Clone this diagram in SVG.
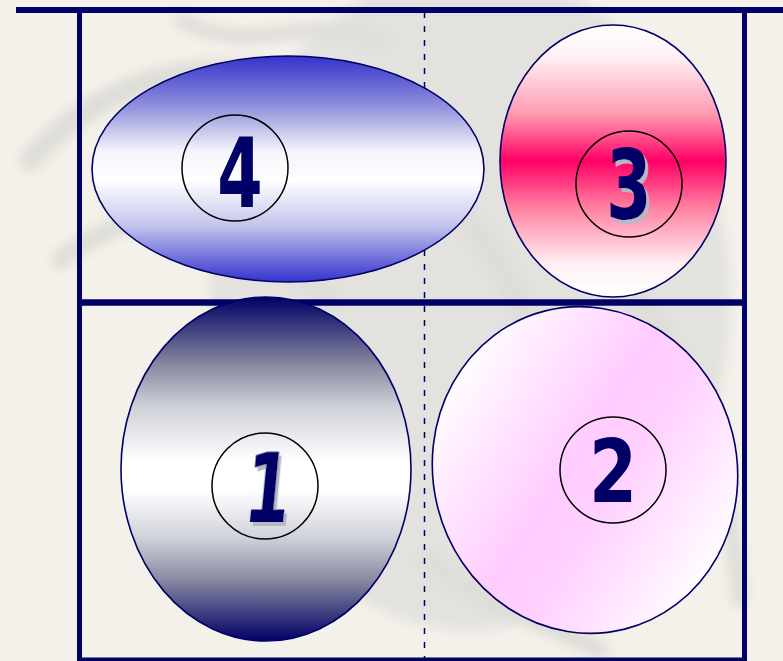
<svg xmlns="http://www.w3.org/2000/svg" width="783" height="661" viewBox="0 0 783 661">
<defs>
<style>
.frame{stroke:#000066;fill:none}
.node{stroke:#000066;stroke-width:1.6}
.ring{fill:none;stroke:#000;stroke-width:1.5}
.num{font-family:"DejaVu Sans",sans-serif;font-weight:bold;font-size:96px;fill:#000066;text-anchor:middle}
.sh{filter:url(#drop)}
.bgs{fill:none;stroke:#d6d4d0;stroke-linecap:round}
</style>
<linearGradient id="g4" x1="0" y1="0" x2="0" y2="1">
<stop offset="0" stop-color="#3333cc"/>
<stop offset="0.22" stop-color="#8f8fdc"/>
<stop offset="0.42" stop-color="#f4f4fb"/>
<stop offset="0.55" stop-color="#ffffff"/>
<stop offset="0.75" stop-color="#c4c4ec"/>
<stop offset="1" stop-color="#3333cc"/>
</linearGradient>
<linearGradient id="g3" x1="0" y1="0" x2="0" y2="1">
<stop offset="0" stop-color="#ffffff"/>
<stop offset="0.12" stop-color="#fff0f4"/>
<stop offset="0.33" stop-color="#ff99b0"/>
<stop offset="0.5" stop-color="#ff0066"/>
<stop offset="0.67" stop-color="#ff80a0"/>
<stop offset="0.88" stop-color="#fff0f4"/>
<stop offset="1" stop-color="#ffffff"/>
</linearGradient>
<linearGradient id="g1" x1="0" y1="0" x2="0" y2="1">
<stop offset="0" stop-color="#000066"/>
<stop offset="0.2" stop-color="#8a8aa2"/>
<stop offset="0.32" stop-color="#d0d2da"/>
<stop offset="0.48" stop-color="#ffffff"/>
<stop offset="0.56" stop-color="#ffffff"/>
<stop offset="0.7" stop-color="#d0d2da"/>
<stop offset="0.82" stop-color="#8a8aa2"/>
<stop offset="1" stop-color="#000066"/>
</linearGradient>
<linearGradient id="g2" x1="0.15" y1="0.1" x2="0.85" y2="0.9">
<stop offset="0" stop-color="#ffffff"/>
<stop offset="0.45" stop-color="#ffccff"/>
<stop offset="0.6" stop-color="#ffd0ff"/>
<stop offset="1" stop-color="#ffffff"/>
</linearGradient>
<filter id="blur" x="-20%" y="-20%" width="140%" height="140%"><feGaussianBlur stdDeviation="6"/></filter>
<filter id="drop" x="-20%" y="-20%" width="150%" height="150%">
<feOffset in="SourceAlpha" dx="5" dy="4" result="o"/>
<feFlood flood-color="#b8b8c4"/>
<feComposite in2="o" operator="in" result="s"/>
<feMerge><feMergeNode in="s"/><feMergeNode in="SourceGraphic"/></feMerge>
</filter>
</defs>
<rect width="783" height="661" fill="#f3f1e9"/>
<g id="background" filter="url(#blur)" opacity="0.7">
<ellipse cx="470" cy="300" rx="260" ry="330" fill="#dddcdc"/>
<path class="bgs" stroke-width="22" d="M30 160 C120 60 260 40 360 120 S520 260 560 420"/>
<path class="bgs" stroke-width="18" d="M60 260 C160 180 260 230 330 300"/>
<path class="bgs" stroke-width="16" d="M640 300 C700 380 730 480 740 600"/>
<path class="bgs" stroke-width="14" d="M180 20 C260 60 300 10 380 40"/>
<path class="bgs" stroke-width="18" d="M430 560 C470 600 540 620 600 650"/>
</g>
<g id="frame">
<line class="frame" x1="16" y1="10" x2="783" y2="10" stroke-width="6"/>
<line class="frame" x1="79.5" y1="8" x2="79.5" y2="661" stroke-width="5"/>
<line class="frame" x1="744.5" y1="8" x2="744.5" y2="661" stroke-width="5"/>
<line class="frame" x1="77" y1="302.5" x2="747" y2="302.5" stroke-width="6.5"/>
<line class="frame" x1="77" y1="659.5" x2="747" y2="659.5" stroke-width="4"/>
<line class="frame" x1="424.5" y1="12" x2="424.5" y2="661" stroke-width="1.5" stroke-dasharray="6 8"/>
</g>
<g id="node4">
<ellipse class="node" cx="288" cy="169" rx="196" ry="113" fill="url(#g4)"/>
<circle class="ring" cx="235" cy="168" r="53"/>
<text class="num" transform="translate(240 207) scale(0.68 1)">4</text>
</g>
<g id="node3">
<ellipse class="node" cx="613" cy="161" rx="113" ry="136" fill="url(#g3)"/>
<circle class="ring" cx="629" cy="184" r="53"/>
<text class="num sh" transform="translate(629 219) scale(0.68 1)">3</text>
</g>
<g id="node1">
<ellipse class="node" cx="266" cy="469" rx="145" ry="172" fill="url(#g1)"/>
<circle class="ring" cx="265" cy="486" r="53"/>
<text class="num sh" transform="translate(265 522) scale(0.68 1) skewX(-8)">1</text>
</g>
<g id="node2">
<ellipse class="node" cx="585" cy="470" rx="152" ry="164" transform="rotate(-14 585 470)" fill="url(#g2)"/>
<circle class="ring" cx="613" cy="470" r="53"/>
<text class="num" transform="translate(613 502) scale(0.72 0.9)">2</text>
</g>
</svg>
